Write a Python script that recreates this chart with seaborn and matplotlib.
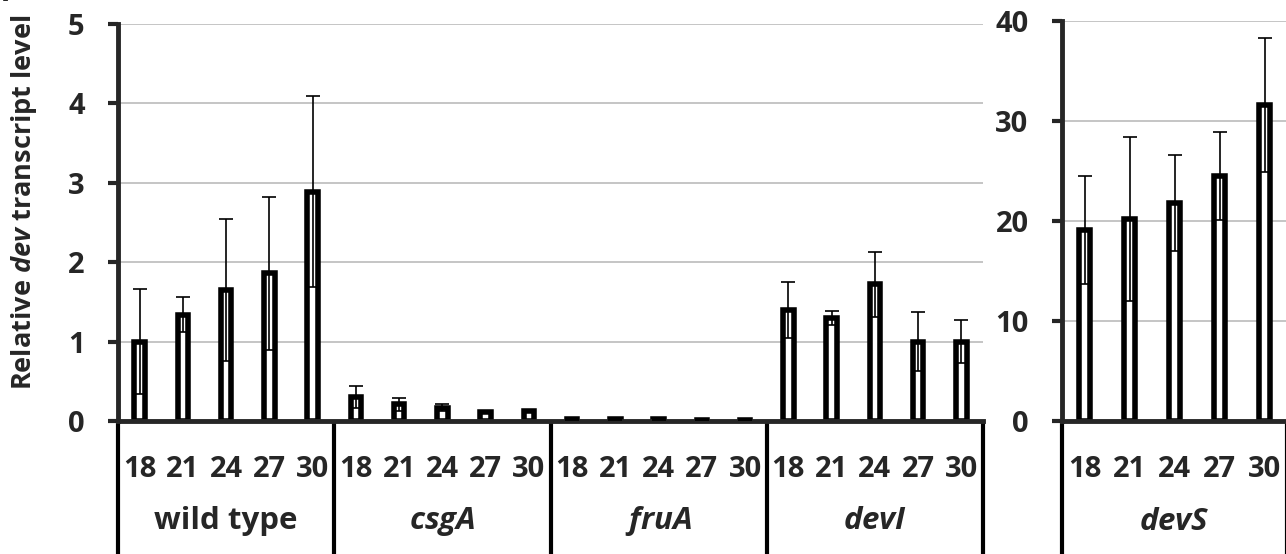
import numpy as np
import pandas as pd
import matplotlib
matplotlib.use("Agg")
import matplotlib.pyplot as plt
import matplotlib.transforms as mtransforms
import seaborn as sns

# datos
times = ["18", "21", "24", "27", "30"]
strains_left = ["wild type", "csgA", "fruA", "devI"]

wt_vals = [1.00, 1.34, 1.65, 1.86, 2.89]
wt_err = [0.66, 0.22, 0.89, 0.96, 1.20]
csga_vals = [0.30, 0.21, 0.17, 0.11, 0.12]
csga_err = [0.14, 0.08, 0.05, 0.01, 0.01]
frua_vals = [0.02, 0.02, 0.02, 0.01, 0.01]
frua_err = [0.005, 0.005, 0.005, 0.003, 0.003]
devi_vals = [1.40, 1.30, 1.72, 1.00, 1.00]
devi_err = [0.35, 0.09, 0.41, 0.37, 0.27]
devs_vals = [19.1, 20.2, 21.8, 24.5, 31.6]
devs_err = [5.4, 8.2, 4.8, 4.4, 6.7]

left_vals = [wt_vals, csga_vals, frua_vals, devi_vals]
left_errs = [wt_err, csga_err, frua_err, devi_err]

df_left = pd.DataFrame({
    "strain": np.repeat(strains_left, len(times)),
    "time": times * len(strains_left),
    "value": np.concatenate(left_vals),
    "err": np.concatenate(left_errs),
})
df_left["slot"] = df_left["strain"] + "_" + df_left["time"]

df_right = pd.DataFrame({"strain": "devS", "time": times,
                         "value": devs_vals, "err": devs_err})
df_right["slot"] = df_right["strain"] + "_" + df_right["time"]

sns.set_style("white")
plt.rcParams["font.family"] = ["Open Sans", "DejaVu Sans"]
plt.rcParams["font.weight"] = "bold"
plt.rcParams["mathtext.fontset"] = "custom"
plt.rcParams["mathtext.it"] = "Open Sans:italic:bold"
plt.rcParams["mathtext.rm"] = "Open Sans:bold"

W, H = 1286, 554
fig = plt.figure(figsize=(W / 100, H / 100), dpi=100)
ax1 = fig.add_axes([118 / W, (H - 421) / H, (983 - 118) / W, (421 - 24) / H])
ax2 = fig.add_axes([1062 / W, (H - 421) / H, (1287 - 1062) / W, (421 - 21) / H])

FS = 21
grid_col = "#b5b5b5"


def draw_panel(ax, df, ymax, groups):
    sns.barplot(data=df, x="slot", y="value", order=list(df["slot"]),
                color="white", edgecolor="black", linewidth=4.0,
                width=0.24, errorbar=None, ax=ax, zorder=2)
    ax.errorbar(np.arange(len(df)), df["value"], yerr=df["err"], fmt="none",
                ecolor="black", elinewidth=1.2, capsize=5, capthick=1.2, zorder=3)
    ax.set_xlim(-0.5, len(df) - 0.5)
    ax.set_ylim(0, ymax)
    ax.set_yticks(np.linspace(0, ymax, 5 if ymax == 40 else 6))
    ax.yaxis.grid(True, color=grid_col, linewidth=1.1)
    ax.set_axisbelow(True)
    for s in ["top", "right"]:
        ax.spines[s].set_visible(False)
    ax.spines["left"].set_linewidth(3.5)
    ax.spines["bottom"].set_linewidth(3.5)
    ax.tick_params(axis="y", direction="out", length=7, width=3, left=True,
                   labelsize=FS, pad=17)
    for lab in ax.get_yticklabels():
        lab.set_fontweight("bold")
    ax.set_xticks([])
    ax.set_xlabel("")
    ax.set_ylabel("")

    trans = mtransforms.blended_transform_factory(ax.transData, ax.transAxes)
    for i, t in enumerate(df["time"]):
        ax.text(i, -0.122, t, transform=trans, ha="center", va="center",
                fontsize=FS, fontweight="bold")
    for g, name in enumerate(groups):
        label = name if name == "wild type" else "$" + name + "$"
        ax.text(g * 5 + 2, -0.252, label, transform=trans, ha="center",
                va="center", fontsize=22.5, fontweight="bold")
    for g in range(len(groups) + 1):
        ax.plot([g * 5 - 0.5, g * 5 - 0.5], [0, -0.36], transform=trans,
                color="black", linewidth=3, clip_on=False,
                solid_capstyle="butt")


draw_panel(ax1, df_left, 5, strains_left)
draw_panel(ax2, df_right, 40, ["devS"])

fig.text(0.019, 0.6345, "Relative $dev$ transcript level", rotation=90,
         ha="center", va="center", fontsize=19.5, fontweight="bold")
fig.text(0.006, 1.012, "A", ha="right", va="center", fontsize=FS,
         fontweight="bold")

fig.savefig("out.png", dpi=100)
